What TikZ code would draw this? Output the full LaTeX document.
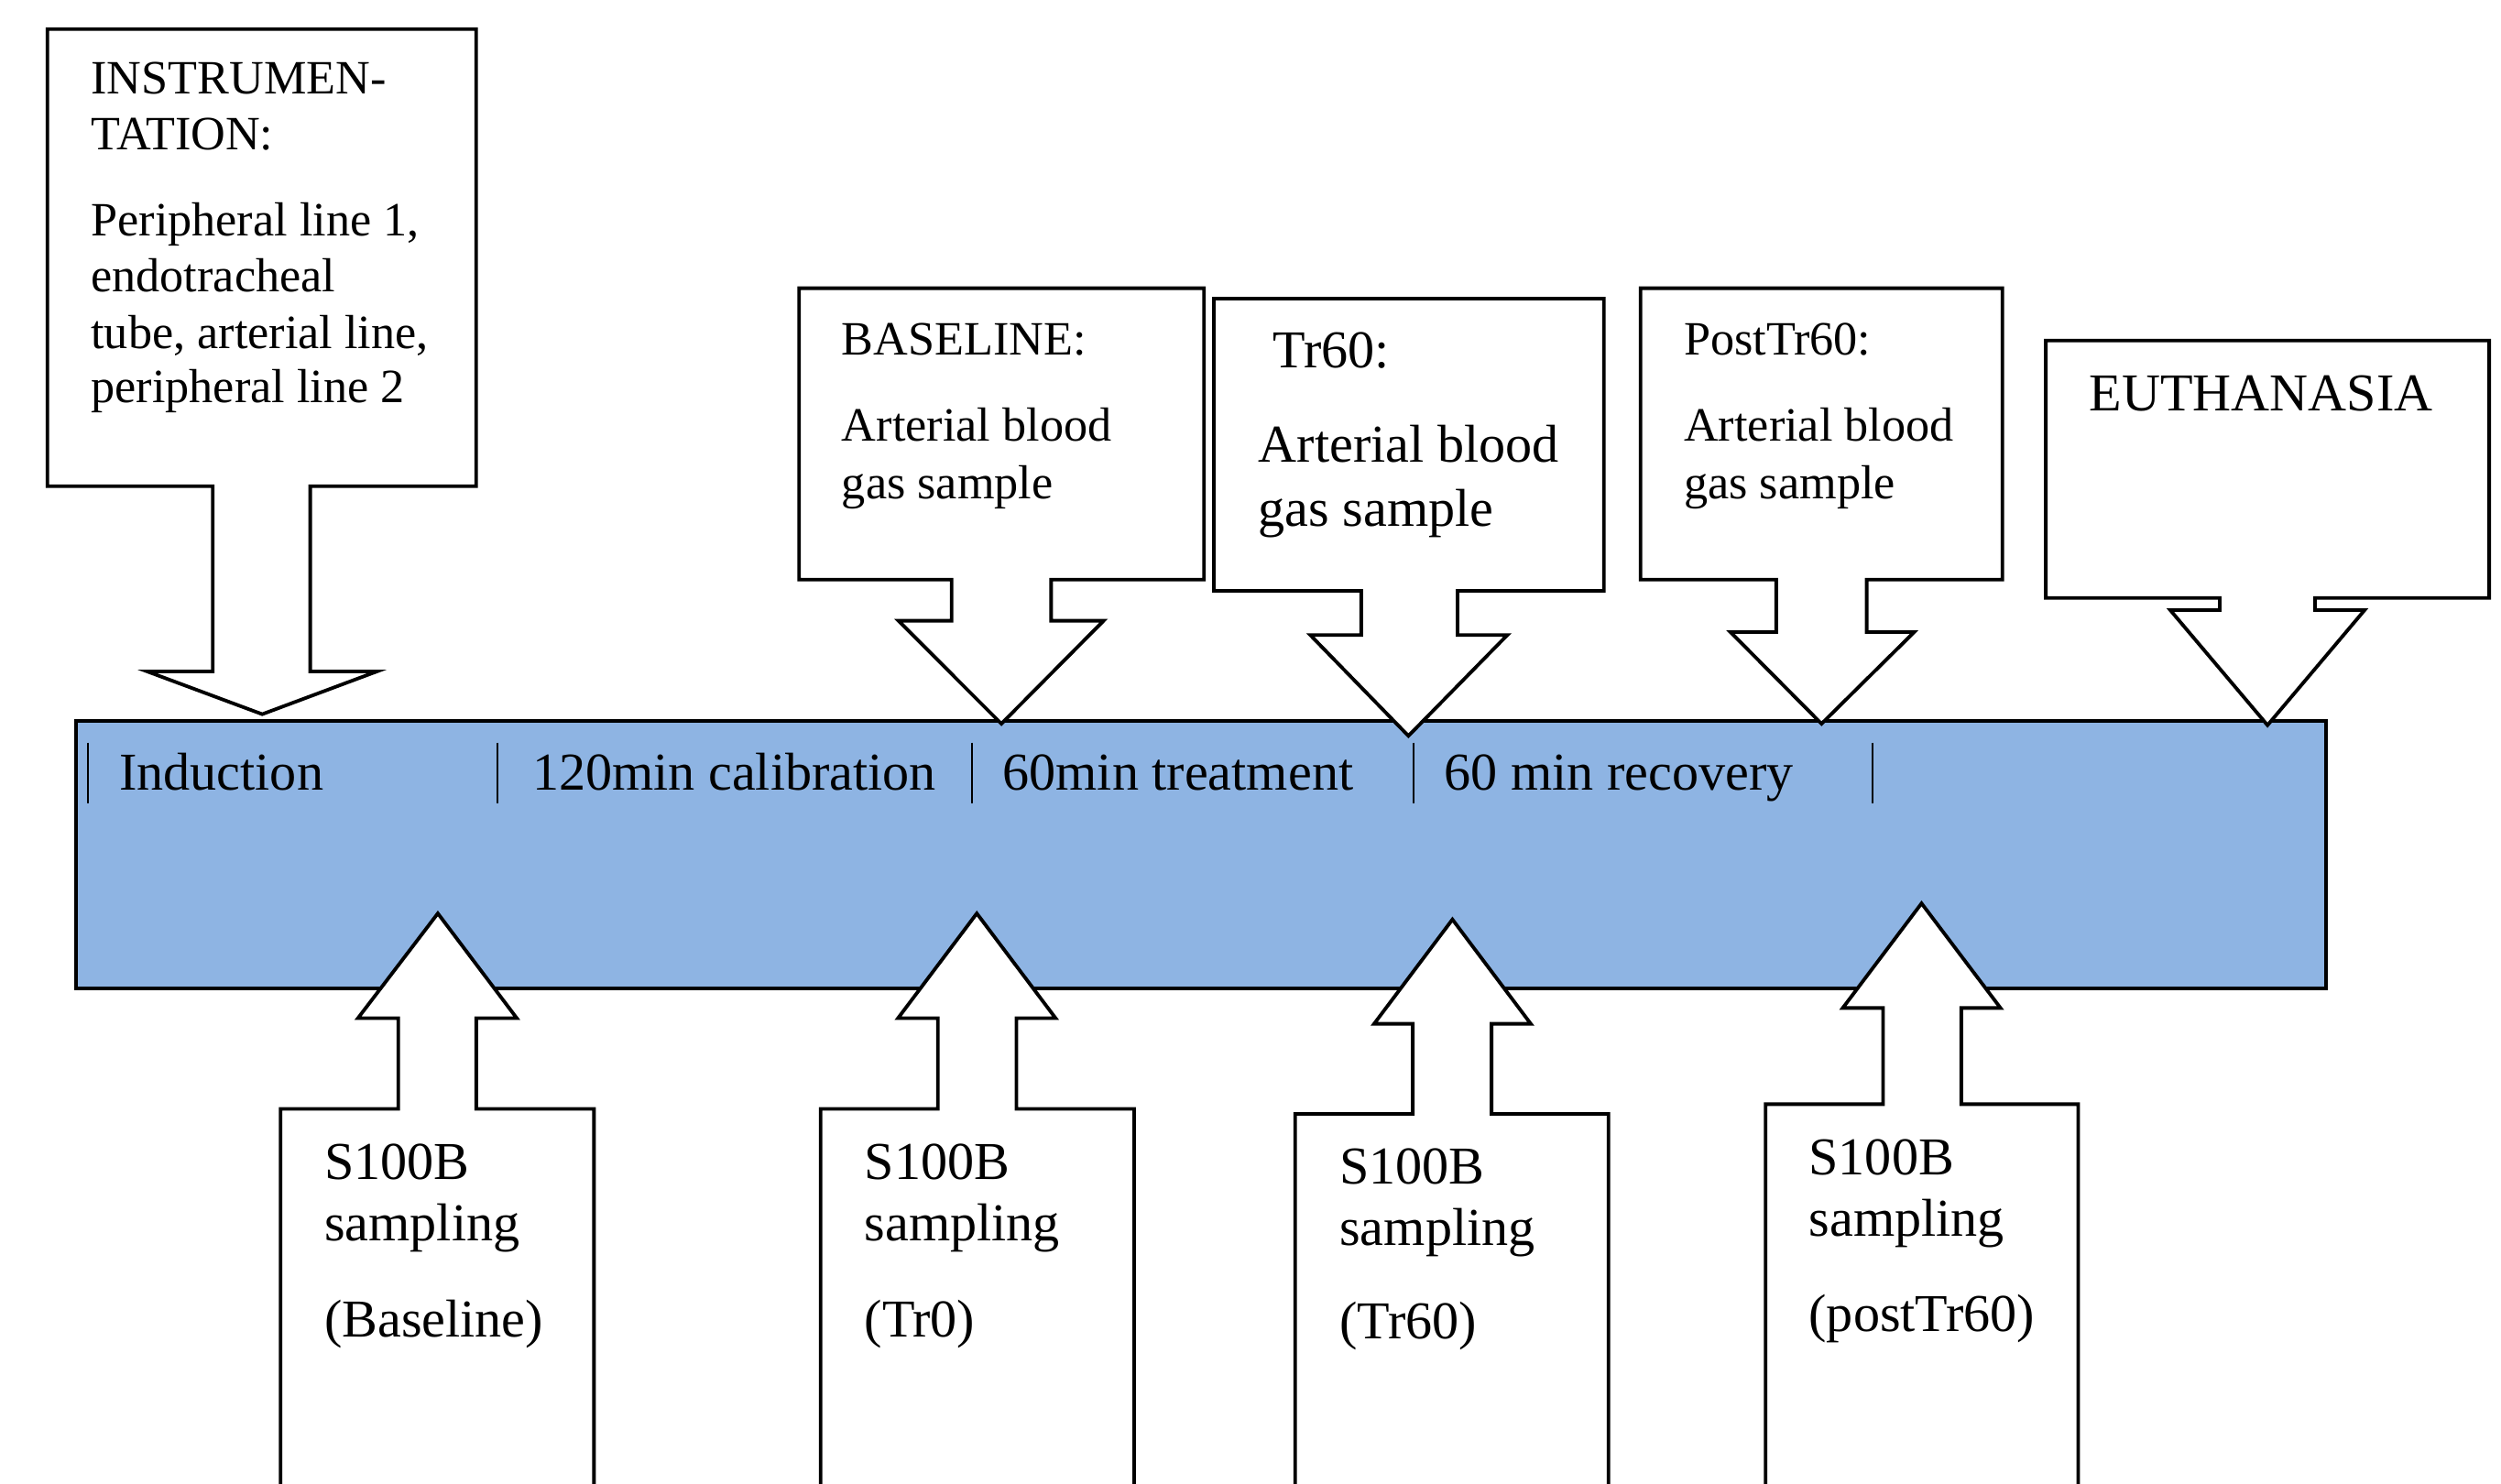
\documentclass[tikz,border=0pt]{standalone}
\usepackage{fontspec}
\setmainfont{Liberation Serif}
\definecolor{barblue}{HTML}{8EB4E3}
\begin{document}
\begin{tikzpicture}[x=0.5pt,y=-0.5pt,
  outl/.style={draw=black, line width=1.1pt, fill=white, line join=miter},
  barbox/.style={draw=black, line width=1.1pt, fill=barblue},
  sepline/.style={draw=black, line width=0.6pt},
  sm/.style={anchor=base west, inner sep=0pt, font=\fontsize{15}{18}\selectfont},
  lg/.style={anchor=base west, inner sep=0pt, font=\fontsize{16.7}{20}\selectfont}]
\useasboundingbox (0,0) rectangle (1568,930);
\clip (0,0) rectangle (1568,930);
\fill[white] (0,0) rectangle (1568,930);

% timeline bar
\path[barbox] (47.5,452) rectangle (1458.2,619.9);
\foreach \x in {54.9,311.8,609.2,886,1174}
  \draw[sepline] (\x,465.6) -- (\x,503.9);
\node[lg] (tInd) at (74.4,495.5) {Induction};
\node[lg] (tCal) at (333.3,495.5) {120min calibration};
\node[lg] (tTre) at (628.2,495.5) {60min treatment};
\node[lg] (tRec) at (905,495.5) {60 min recovery};

% top callouts
\path[outl] (29.7,18.2) -- (298.5,18.2) -- (298.5,304.8) -- (194.5,304.8) -- (194.5,421) -- (236.3,421)
  -- (164.4,447.8) -- (92.3,421) -- (133.4,421) -- (133.4,304.8) -- (29.7,304.8) -- cycle;
\path[outl] (501,180.7) -- (754.8,180.7) -- (754.8,363.4) -- (659,363.4) -- (659,389.2) -- (691.9,389.2)
  -- (627.8,453.8) -- (563.3,389.2) -- (596.6,389.2) -- (596.6,363.4) -- (501,363.4) -- cycle;
\path[outl] (761,187.2) -- (1005.5,187.2) -- (1005.5,370.5) -- (913.8,370.5) -- (913.8,398.2) -- (945,398.2)
  -- (883,461.4) -- (821.5,398.2) -- (853.4,398.2) -- (853.4,370.5) -- (761,370.5) -- cycle;
\path[outl] (1028.5,180.7) -- (1255.4,180.7) -- (1255.4,363.4) -- (1170.3,363.4) -- (1170.3,396.3) -- (1200.1,396.3)
  -- (1142,453.8) -- (1084.9,396.3) -- (1113.6,396.3) -- (1113.6,363.4) -- (1028.5,363.4) -- cycle;
\path[outl] (1282.6,213.5) -- (1560.6,213.5) -- (1560.6,374.9) -- (1451.4,374.9) -- (1451.4,382.5) -- (1482.5,382.5)
  -- (1421.6,454.7) -- (1360.6,382.5) -- (1391.7,382.5) -- (1391.7,374.9) -- (1282.6,374.9) -- cycle;

\node[sm] (i1) at (56.7,58.6) {INSTRUMEN-};
\node[sm] (i2) at (56.7,93.8) {TATION:};
\node[sm] (i3) at (56.7,148) {Peripheral line 1,};
\node[sm] (i4) at (56.7,183.2) {endotracheal};
\node[sm] (i5) at (56.7,218.3) {tube, arterial line,};
\node[sm] (i6) at (56.7,252.6) {peripheral line 2};

\node[sm] (b1) at (527.4,222.5) {BASELINE:};
\node[sm] (b2) at (527.4,276.7) {Arterial blood};
\node[sm] (b3) at (527.4,313) {gas sample};

\node[lg] (r1) at (797.8,230.7) {Tr60:};
\node[lg] (r2) at (788.6,289.5) {Arterial blood};
\node[lg] (r3) at (788.6,329.7) {gas sample};

\node[sm] (p1) at (1055.4,222.5) {PostTr60:};
\node[sm] (p2) at (1055.4,276.7) {Arterial blood};
\node[sm] (p3) at (1055.4,313) {gas sample};

\node[lg] (e1) at (1309.6,257.5) {EUTHANASIA};

% bottom callouts
\path[outl] (175.9,945) -- (175.9,695.3) -- (249.7,695.3) -- (249.7,638.4) -- (224.4,638.4) -- (274.5,572.7)
  -- (324,638.4) -- (298.6,638.4) -- (298.6,695.3) -- (372.4,695.3) -- (372.4,945);
\path[outl] (514.5,945) -- (514.5,695.3) -- (588,695.3) -- (588,638.4) -- (563,638.4) -- (612.4,572.7)
  -- (661.8,638.4) -- (637.2,638.4) -- (637.2,695.3) -- (711,695.3) -- (711,945);
\path[outl] (812,945) -- (812,698.4) -- (885.7,698.4) -- (885.7,641.9) -- (861.5,641.9) -- (910.6,576.5)
  -- (959.7,641.9) -- (935.1,641.9) -- (935.1,698.4) -- (1008.4,698.4) -- (1008.4,945);
\path[outl] (1106.9,945) -- (1106.9,692.3) -- (1180.6,692.3) -- (1180.6,632) -- (1155.3,632) -- (1204.7,566.4)
  -- (1254.2,632) -- (1229.6,632) -- (1229.6,692.3) -- (1302.9,692.3) -- (1302.9,945);

\node[lg] (sa1) at (203,739.2) {S100B};
\node[lg] (sa2) at (203,778.1) {sampling};
\node[lg] (sa3) at (203,838.4) {(Baseline)};

\node[lg] (sb1) at (541.6,739.2) {S100B};
\node[lg] (sb2) at (541.6,778.1) {sampling};
\node[lg] (sb3) at (541.6,838.4) {(Tr0)};

\node[lg] (sc1) at (839.5,742.2) {S100B};
\node[lg] (sc2) at (839.5,780.9) {sampling};
\node[lg] (sc3) at (839.5,839.5) {(Tr60)};

\node[lg] (sd1) at (1133.7,736.4) {S100B};
\node[lg] (sd2) at (1133.7,775) {sampling};
\node[lg] (sd3) at (1133.7,834.9) {(postTr60)};
\end{tikzpicture}
\end{document}
